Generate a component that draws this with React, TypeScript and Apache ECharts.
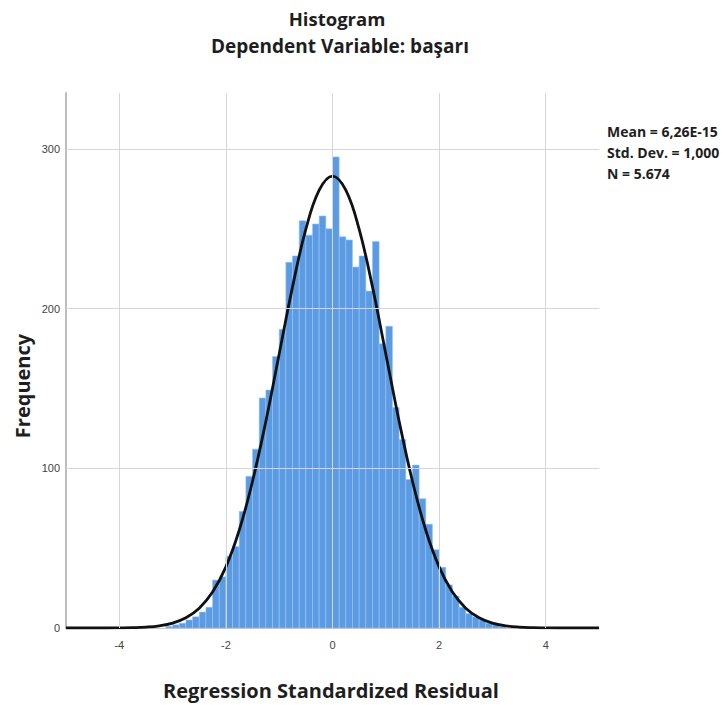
import React, { useEffect, useRef } from "react";
import * as echarts from "echarts";

// Histogram bins (bin width 0.125, first bin starts at -3.125)
const binWidth = 0.125;
const firstBinStart = -3.125;
const binCounts = [
  1, 2, 3, 5, 7, 10, 13, 30, 32, 45, 51, 73, 95, 112, 144, 149, 170, 187, 229, 233, 255, 246, 253, 258, 250,
  295, 245, 243, 226, 233, 211, 242, 178, 189, 138, 118, 93, 102, 81, 65, 49, 38, 27, 20, 13, 9, 7, 5, 3, 2, 1,
];

// Normal curve points
const curveX = [
  -5, -4.75, -4.5, -4.25, -4, -3.75, -3.5, -3.25, -3, -2.75, -2.5, -2.25, -2, -1.75, -1.5, -1.25, -1, -0.75, -0.5, -0.25,
  0, 0.25, 0.5, 0.75, 1, 1.25, 1.5, 1.75, 2, 2.25, 2.5, 2.75, 3, 3.25, 3.5, 3.75, 4, 4.25, 4.5, 4.75, 5,
];
const curveY = [
  0, 0, 0, 0, 0.1, 0.25, 0.6, 1.4, 3.1, 6.4, 12.4, 22.5, 38.3, 61.2, 91.9, 129.5, 171.6, 213.6, 249.7, 274.2,
  283, 274.2, 249.7, 213.6, 171.6, 129.5, 91.9, 61.2, 38.3, 22.5, 12.4, 6.4, 3.1, 1.4, 0.6, 0.25, 0.1, 0, 0, 0, 0,
];

const xTicks = [-4, -2, 0, 2, 4];
const yTicks = [100, 200, 300];

const titleLines = ["Histogram", "Dependent Variable: başarı"];
const statsLines = ["Mean = 6,26E-15", "Std. Dev. = 1,000", "N = 5.674"];
const xName = "Regression Standardized Residual";
const yName = "Frequency";

const BOLD_FONT = "'Open Sans', 'Noto Sans', sans-serif";
const TICK_FONT = "'Liberation Sans Narrow', 'Liberation Sans', Arial, sans-serif";

export default function App() {
  const ref = useRef<HTMLDivElement>(null);

  useEffect(() => {
    document.body.style.margin = "0";
    if (!ref.current) return;
    const chart = echarts.init(ref.current, undefined, { renderer: "svg" });

    const bins = binCounts.map((c, i) => {
      const s = firstBinStart + i * binWidth;
      return [s, s + binWidth, c];
    });
    const curve = curveX.map((x, i) => [x, curveY[i]]);

    const textStyle = (text: string, size: number, align: string) => ({
      text,
      fontFamily: BOLD_FONT,
      fontWeight: "bold",
      fontSize: size,
      fill: "#1e1e1e",
      textAlign: align,
      textVerticalAlign: "middle",
    });

    const option: any = {
      animation: false,
      backgroundColor: "#ffffff",
      grid: { left: 66, right: 126, top: 93, bottom: 77 },
      xAxis: {
        type: "value",
        min: -5,
        max: 5,
        interval: 1,
        axisLine: { show: true, onZero: false, lineStyle: { color: "#c8c8c8", width: 1 } },
        axisTick: { show: false },
        splitLine: { show: false },
        axisLabel: {
          margin: 11,
          fontSize: 11,
          color: "#444",
          fontFamily: TICK_FONT,
          formatter: (v: number) => (xTicks.indexOf(v) >= 0 ? String(v) : ""),
        },
      },
      yAxis: {
        type: "value",
        min: 0,
        max: 335,
        interval: 100,
        axisLine: { show: true, onZero: false, lineStyle: { color: "#bdbdbd", width: 2 } },
        axisTick: { show: false },
        splitLine: { show: false },
        axisLabel: {
          margin: 6,
          fontSize: 11,
          color: "#444",
          fontFamily: TICK_FONT,
          showMaxLabel: false,
          formatter: (v: number) => (v === 0 || yTicks.indexOf(v) >= 0 ? String(v) : ""),
        },
      },
      series: [
        {
          type: "line",
          data: [],
          z: 1,
          silent: true,
          markLine: {
            silent: true,
            symbol: "none",
            label: { show: false },
            lineStyle: { color: "#d6d6d6", type: "solid", width: 1 },
            data: [...xTicks.map((v) => ({ xAxis: v })), ...yTicks.map((v) => ({ yAxis: v }))],
          },
        },
        {
          type: "custom",
          z: 2,
          silent: true,
          data: bins,
          renderItem: (params: any, api: any) => {
            const x0 = api.value(0);
            const x1 = api.value(1);
            const y = api.value(2);
            const p0 = api.coord([x0, y]);
            const p1 = api.coord([x1, 0]);
            return {
              type: "rect",
              shape: { x: p0[0], y: p0[1], width: p1[0] - p0[0], height: p1[1] - p0[1] },
              style: { fill: "#5b9be4", stroke: "#9cc2ef", lineWidth: 0.6 },
            };
          },
        },
        {
          type: "line",
          z: 3,
          silent: true,
          data: curve,
          smooth: 0.4,
          showSymbol: false,
          symbol: "none",
          lineStyle: { color: "#111111", width: 2.8 },
        },
      ],
      graphic: [
        { type: "text", x: 337, y: 18, style: textStyle(titleLines[0], 18.5, "center") },
        { type: "text", x: 340, y: 46, style: textStyle(titleLines[1], 19, "center") },
        ...statsLines.map((t, i) => ({
          type: "text",
          x: 607,
          y: 131 + i * 21,
          style: textStyle(t, 14, "left"),
        })),
        { type: "text", x: 331, y: 690, style: textStyle(xName, 20, "center") },
        { type: "text", x: 22, y: 386, rotation: Math.PI / 2, style: textStyle(yName, 20, "center") },
      ],
    };

    chart.setOption(option);
    return () => chart.dispose();
  }, []);

  return <div ref={ref} style={{ width: 725, height: 705 }} />;
}
